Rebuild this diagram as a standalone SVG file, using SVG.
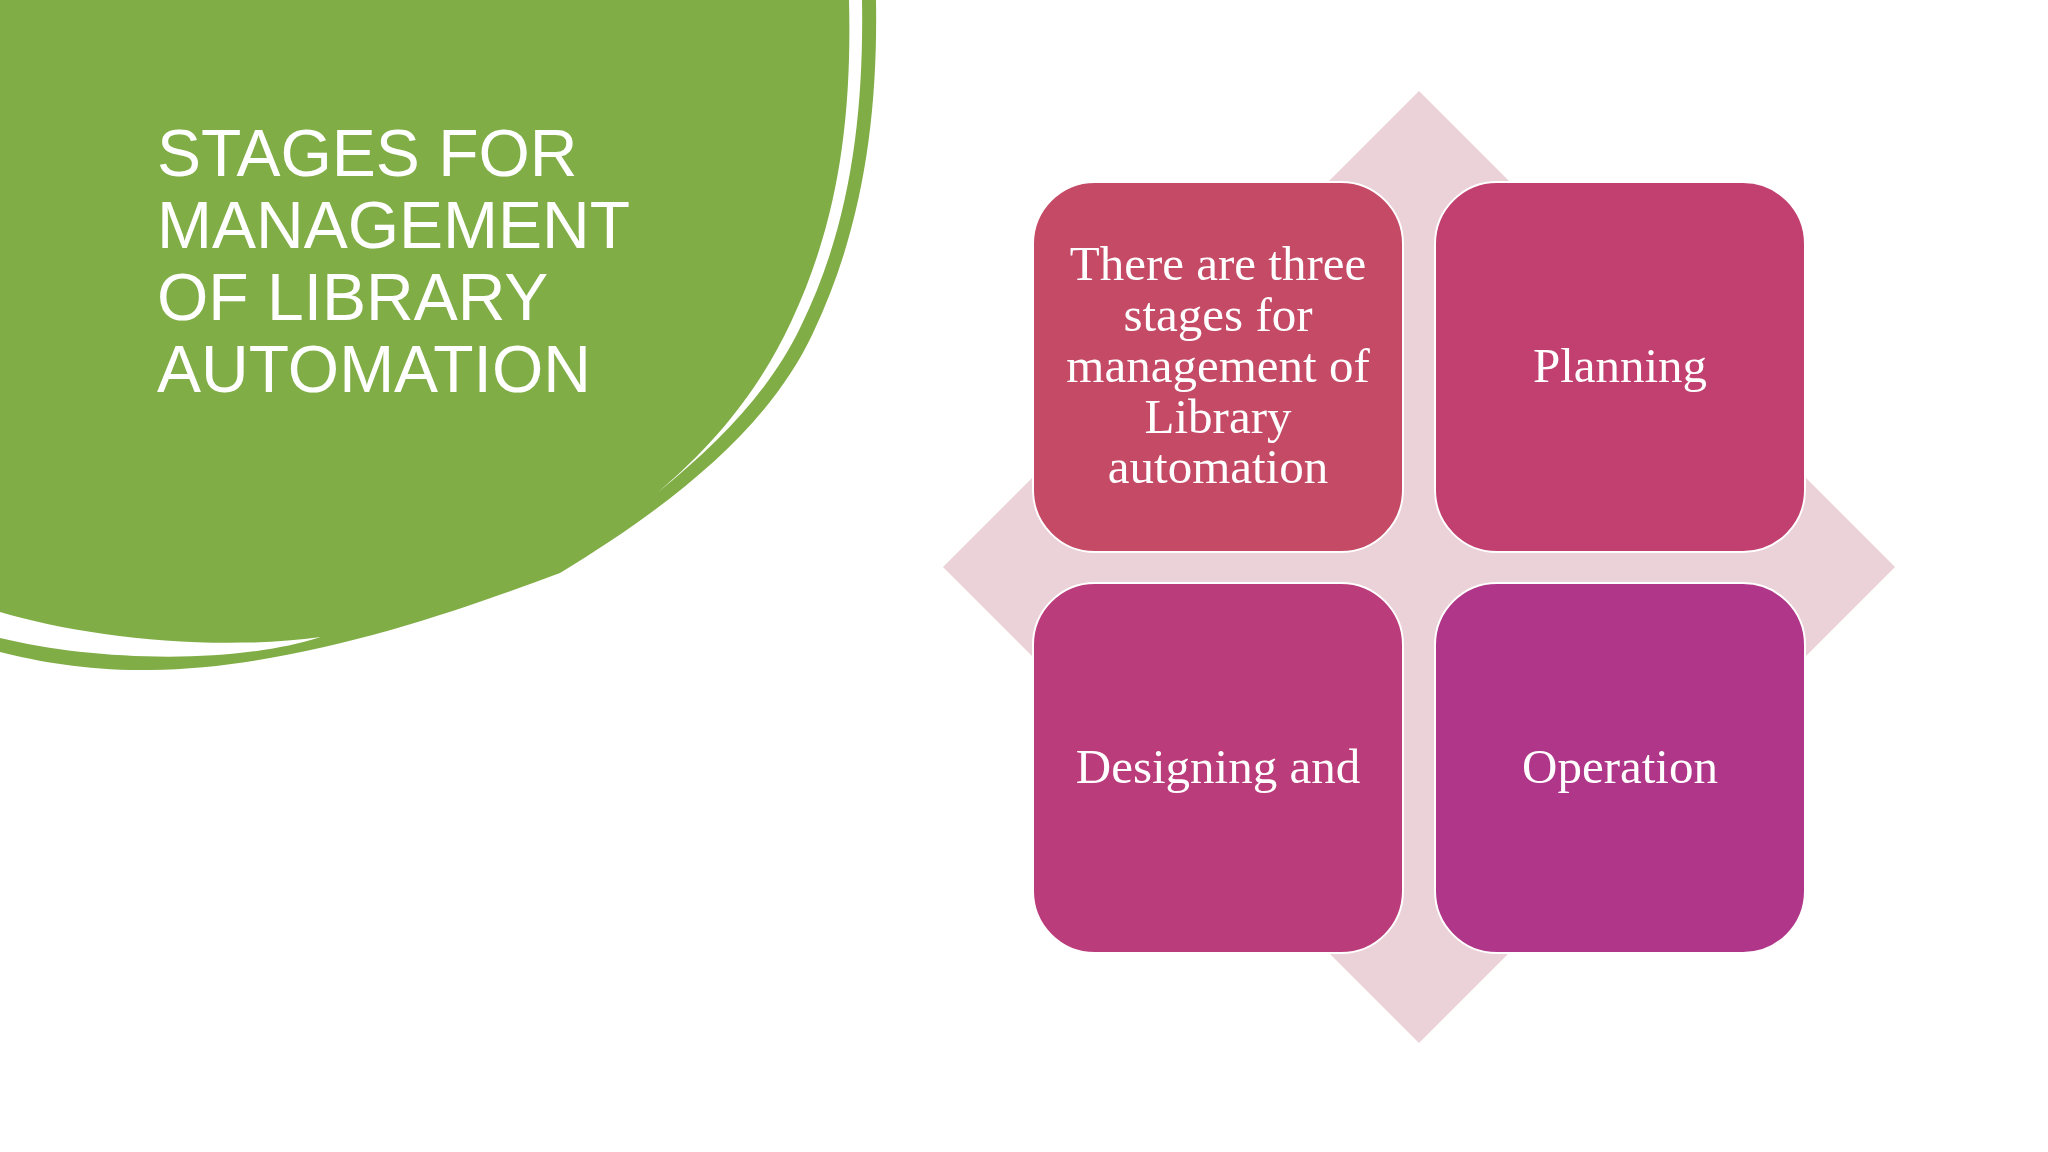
<svg xmlns="http://www.w3.org/2000/svg" width="2048" height="1152" viewBox="0 0 2048 1152">
  <style>
    .title { font-family: "Liberation Sans", Arial, sans-serif; font-size: 66px; fill: #FFFFFF; }
    .box { stroke: #FFFFFF; stroke-width: 2; }
    .lbl { font-family: "Liberation Serif", "Times New Roman", serif; font-size: 49px; fill: #FFFFFF; text-anchor: middle; }
  </style>
  <rect x="0" y="0" width="2048" height="1152" fill="#FFFFFF"/>
  <g id="green-blob">
    <path d="M 0,0 L 876,0 C 878,120 862,230 813,333 C 770,425 680,500 560,573 C 460,610 300,668 150,670 C 90,671 40,662 0,652 Z" fill="#80AD45"/>
    <path d="M 849,0 L 862,0 C 864,120 849,228 801,326 C 772,387 723,440 657,493 C 720,440 762,384 791,322 C 838,222 852,120 849,0 Z" fill="#FFFFFF"/>
    <path d="M 0,612 C 80,636 210,652 321,637 C 230,666 90,660 0,638 Z" fill="#FFFFFF"/>
  </g>
  <g id="title">
    <text class="title" x="157" y="176">STAGES FOR</text>
    <text class="title" x="157" y="248">MANAGEMENT</text>
    <text class="title" x="157" y="320">OF LIBRARY</text>
    <text class="title" x="157" y="392">AUTOMATION</text>
  </g>
  <g id="diamond">
    <polygon points="1419,91 1895,567 1419,1043 943,567" fill="#EBD1D8"/>
  </g>
  <g id="connectors"></g>
  <g id="node-intro">
    <rect class="box" x="1033" y="182" width="370" height="370" rx="62" ry="62" fill="#C44A66"/>
    <text class="lbl" x="1218" y="280">There are three</text>
    <text class="lbl" x="1218" y="331">stages for</text>
    <text class="lbl" x="1218" y="382">management of</text>
    <text class="lbl" x="1218" y="433">Library</text>
    <text class="lbl" x="1218" y="483">automation</text>
  </g>
  <g id="node-planning">
    <rect class="box" x="1435" y="182" width="370" height="370" rx="62" ry="62" fill="#C2406F"/>
    <text class="lbl" x="1620" y="382">Planning</text>
  </g>
  <g id="node-designing">
    <rect class="box" x="1033" y="583" width="370" height="370" rx="62" ry="62" fill="#BB3C7A"/>
    <text class="lbl" x="1218" y="783">Designing and</text>
  </g>
  <g id="node-operation">
    <rect class="box" x="1435" y="583" width="370" height="370" rx="62" ry="62" fill="#B0368A"/>
    <text class="lbl" x="1620" y="783">Operation</text>
  </g>
</svg>
